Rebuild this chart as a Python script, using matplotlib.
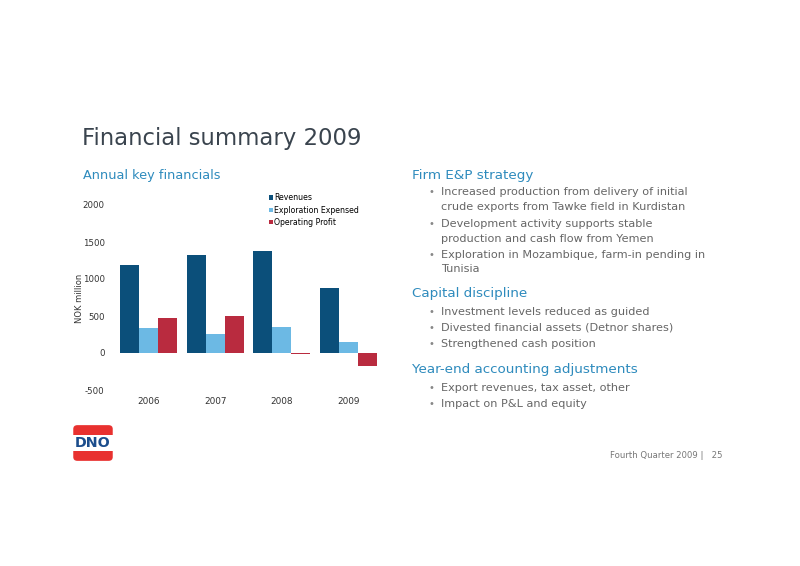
import numpy as np
import matplotlib
matplotlib.use("Agg")
import matplotlib.pyplot as plt
from matplotlib.patches import FancyBboxPatch, Rectangle

years = ["2006", "2007", "2008", "2009"]
revenues = [1195, 1325, 1380, 875]
exploration = [335, 260, 358, 152]
op_profit = [470, 497, -8, -180]
series_names = ["Revenues", "Exploration Expensed", "Operating Profit"]
colors = ["#0b4f7a", "#6cb9e4", "#b92b3f"]
yticks = [-500, 0, 500, 1000, 1500, 2000]

sections = [
    ("Firm E&P strategy", [
        ["Increased production from delivery of initial", "crude exports from Tawke field in Kurdistan"],
        ["Development activity supports stable", "production and cash flow from Yemen"],
        ["Exploration in Mozambique, farm-in pending in", "Tunisia"],
    ]),
    ("Capital discipline", [
        ["Investment levels reduced as guided"],
        ["Divested financial assets (Detnor shares)"],
        ["Strengthened cash position"],
    ]),
    ("Year-end accounting adjustments", [
        ["Export revenues, tax asset, other"],
        ["Impact on P&L and equity"],
    ]),
]

W, H = 800, 566
fig = plt.figure(figsize=(8, 5.66), dpi=100)
fig.patch.set_facecolor("white")

def fx(px):
    return px / W

def fy(py):
    return 1 - py / H

# title and subtitle
fig.text(fx(82), fy(139), "Financial summary 2009", fontsize=16.4, color="#3a444e",
         va="center", ha="left")
fig.text(fx(83), fy(175), "Annual key financials", fontsize=9.3, color="#2e8bbd",
         va="center", ha="left")

# chart
ax = fig.add_axes([fx(113), fy(390), fx(382) - fx(113), (390 - 205) / H])
x = np.arange(len(years))
w = 0.285
data = [revenues, exploration, op_profit]
for i, (vals, c, name) in enumerate(zip(data, colors, series_names)):
    ax.bar(x + (i - 1) * w, vals, w, color=c, label=name, edgecolor="none")
ax.set_xlim(-0.53, 3.5)
ax.set_ylim(-500, 2000)
ax.set_yticks(yticks)
ax.set_yticklabels([str(v) for v in yticks], fontsize=6.2, color="#333333")
ax.set_xticks([])
for s in ax.spines.values():
    s.set_visible(False)
ax.tick_params(axis="y", length=0, pad=6)
fig.text(fx(79), fy(298), "NOK million", fontsize=6.0, color="#333333",
         rotation=90, ha="center", va="center")
for xi, yr in zip(x, years):
    ax.text(xi, -600, yr, fontsize=6.4, color="#333333", ha="center", va="top")
ax.legend(loc="upper left", bbox_to_anchor=(0.57, 1.08), frameon=False,
          fontsize=5.6, handlelength=0.45, handleheight=0.45, handletextpad=0.2,
          labelspacing=0.42, borderaxespad=0)

# right text
rows = [175, 192, 207, 224, 239, 255, 269, 294, 312, 328, 344, 370, 388, 404]
k = 0
for head, bullets in sections:
    fig.text(fx(412), fy(rows[k]), head, fontsize=9.7, color="#2e8bbd", va="center")
    k += 1
    for lines in bullets:
        fig.text(fx(428), fy(rows[k]), "•", fontsize=7, color="#888888", va="center")
        for ln in lines:
            fig.text(fx(441), fy(rows[k]), ln, fontsize=8.1, color="#666666", va="center")
            k += 1

# logo
logo = fig.add_axes([fx(72), fy(462), fx(114) - fx(72), (462 - 424) / H])
logo.set_xlim(0, 1)
logo.set_ylim(0, 1)
logo.axis("off")
logo.add_patch(FancyBboxPatch((0.03, 0.03), 0.94, 0.94,
                              boxstyle="round,pad=0,rounding_size=0.1",
                              fc="#e8312f", ec="none"))
logo.add_patch(Rectangle((0.0, 0.3), 1.0, 0.4, fc="white", ec="none"))
logo.text(0.5, 0.5, "DNO", fontsize=10.3, fontweight="bold", color="#1b4d8c",
          ha="center", va="center")

# footer
fig.text(fx(722), fy(455), "Fourth Quarter 2009 |   25", fontsize=6.1, color="#777777",
         ha="right", va="center")

fig.savefig("out.png", dpi=100, facecolor="white")
